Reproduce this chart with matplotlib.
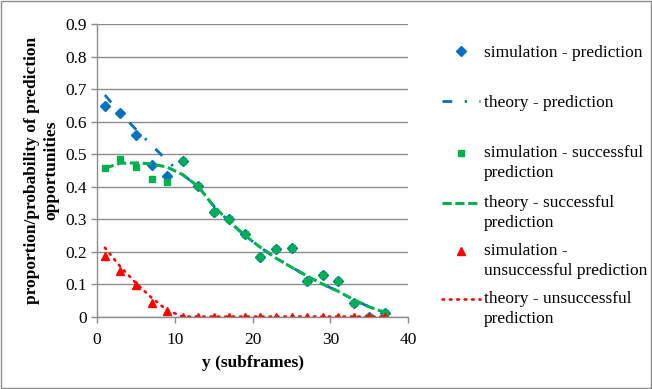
import matplotlib.pyplot as plt
from matplotlib.patches import Rectangle

# Prediction opportunities vs. y: simulation points and theory curves

y_subframes = [1, 3, 5, 7, 9, 11, 13, 15, 17, 19, 21, 23, 25, 27, 29, 31, 33, 35, 37]

sim_prediction = [0.648, 0.627, 0.559, 0.466, 0.433, 0.478, 0.401, 0.322, 0.301, 0.253,
                  0.185, 0.209, 0.212, 0.111, 0.127, 0.109, 0.042, 0.0, 0.01]
sim_successful = [0.458, 0.484, 0.461, 0.422, 0.415, 0.478, 0.401, 0.322, 0.301, 0.253,
                  0.185, 0.209, 0.212, 0.111, 0.127, 0.109, 0.042, 0.0, 0.01]
sim_unsuccessful = [0.188, 0.14, 0.096, 0.042, 0.016, 0, 0, 0, 0, 0,
                    0, 0, 0, 0, 0, 0, 0, 0, 0]

theory_prediction = [0.682, 0.625, 0.576, 0.528, 0.480, 0.437, 0.400, 0.340, 0.292, 0.250,
                     0.213, 0.180, 0.152, 0.125, 0.100, 0.078, 0.052, 0.030, 0.013]
theory_successful = [0.457, 0.472, 0.473, 0.470, 0.460, 0.437, 0.400, 0.340, 0.292, 0.250,
                     0.213, 0.180, 0.152, 0.125, 0.100, 0.078, 0.052, 0.030, 0.013]
theory_unsuccessful = [0.212, 0.153, 0.103, 0.058, 0.020, 0, 0, 0, 0, 0,
                       0, 0, 0, 0, 0, 0, 0, 0, 0]

legend_labels = ["simulation - prediction",
                 "theory - prediction",
                 "simulation - successful\nprediction",
                 "theory - successful\nprediction",
                 "simulation -\nunsuccessful prediction",
                 "theory - unsuccessful\nprediction"]

blue = "#0070C0"
green = "#00B050"
red = "#FF0000"
grey = "#8C8C8C"
fs = 12.5

plt.rcParams["font.family"] = "Liberation Serif"
plt.rcParams["font.size"] = fs

fig = plt.figure(figsize=(6.52, 3.89), dpi=100)
ax = fig.add_axes([0.149, 0.186, 0.477, 0.752])

dashdot = (0, (3.5, 4.5, 0.8, 4.5))
dashed = (0, (3, 1.2))
dotted = (0, (0.6, 2.2))

h1, = ax.plot(y_subframes, sim_prediction, "D", color=blue, ms=4.6, ls="none")
h2, = ax.plot(y_subframes, theory_prediction, color=blue, lw=2.0, ls=dashdot)
h3, = ax.plot(y_subframes, sim_successful, "s", color=green, ms=4.4, ls="none")
h4, = ax.plot(y_subframes, theory_successful, color=green, lw=2.2, ls=dashed)
h5, = ax.plot(y_subframes, sim_unsuccessful, "^", color=red, ms=5.5, ls="none")
h6, = ax.plot(y_subframes, theory_unsuccessful, color=red, lw=1.9, ls=dotted,
              dash_capstyle="round")

ax.set_xlim(0, 40)
ax.set_ylim(0, 0.9)
ax.set_xticks([0, 10, 20, 30, 40])
ax.set_yticks([i / 10 for i in range(10)])
ax.set_yticklabels(["0"] + [f"{i / 10:.1f}" for i in range(1, 10)])
ax.yaxis.grid(True, color=grey, lw=1.0)
ax.set_axisbelow(True)

for side in ["top", "right"]:
    ax.spines[side].set_visible(False)
for side in ["left", "bottom"]:
    ax.spines[side].set_color(grey)
    ax.spines[side].set_linewidth(1.0)
ax.tick_params(axis="both", colors=grey, labelcolor="black", length=4, width=1.0,
               labelsize=fs)
ax.tick_params(axis="x", pad=7)

ax.set_xlabel("y (subframes)", fontweight="bold", fontsize=fs, labelpad=5)
ax.set_ylabel("proportion/probability of prediction\nopportunities",
              fontweight="bold", fontsize=fs, labelpad=4, linespacing=1.3)

# one legend per entry so each row sits at its own height
handles = [h1, h2, h3, h4, h5, h6]
tops = [45, 95, 145, 195, 243, 291]
for h, lab, top in zip(handles, legend_labels, tops):
    leg = fig.legend([h], [lab], loc="upper left",
                     bbox_to_anchor=(442 / 652, 1 - top / 389),
                     frameon=False, borderpad=0, borderaxespad=0, handlelength=2.2,
                     handletextpad=0.2, fontsize=fs)
    for t in leg.get_texts():
        t.set_linespacing(1.35)
    if "\n" in lab:
        # keep the symbol level with the first line of a two-line label
        line = leg.legend_handles[0]
        line.set_ydata(line.get_ydata() + 7.0)

fig.patches.append(Rectangle((0.002, 0.003), 0.996, 0.994, transform=fig.transFigure,
                             fill=False, edgecolor=grey, lw=1.0))

fig.savefig("out.png", dpi=100)
